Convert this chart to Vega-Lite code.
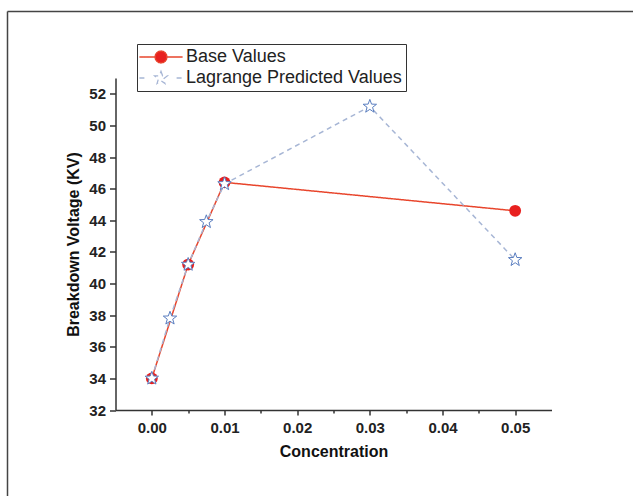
{
  "$schema": "https://vega.github.io/schema/vega-lite/v6.json",
  "width": 625.5,
  "height": 484.5,
  "autosize": {"type": "none"},
  "padding": {"left": 7.5, "top": 11.5, "right": 0, "bottom": 0},
  "background": "white",
  "config": {
    "view": {"stroke": "#444", "strokeWidth": 1.5, "strokeDash": [625.5, 1110, 484.5, 0]},
    "font": "Liberation Sans",
    "axis": {"labelFont": "Liberation Sans", "titleFont": "Liberation Sans", "grid": false}
  },
  "data": {
    "values": [
      {"series": "Base Values", "c": 0.0, "v": 34.0},
      {"series": "Base Values", "c": 0.005, "v": 41.2},
      {"series": "Base Values", "c": 0.01, "v": 46.4},
      {"series": "Base Values", "c": 0.05, "v": 44.6},
      {"series": "Lagrange Predicted Values", "c": 0.0, "v": 34.0},
      {"series": "Lagrange Predicted Values", "c": 0.0025, "v": 37.8},
      {"series": "Lagrange Predicted Values", "c": 0.005, "v": 41.2},
      {"series": "Lagrange Predicted Values", "c": 0.0075, "v": 43.9},
      {"series": "Lagrange Predicted Values", "c": 0.01, "v": 46.3},
      {"series": "Lagrange Predicted Values", "c": 0.03, "v": 51.2},
      {"series": "Lagrange Predicted Values", "c": 0.05, "v": 41.5}
    ]
  },
  "layer": [
    {
      "mark": {"type": "line", "strokeWidth": 1.5},
      "encoding": {
        "x": {
          "field": "c", "type": "quantitative",
          "scale": {"domain": [-0.005, 0.055], "range": [108, 544], "nice": false, "zero": false},
          "axis": {
            "orient": "bottom", "offset": -86,
            "values": [0, 0.005, 0.01, 0.015, 0.02, 0.025, 0.03, 0.035, 0.04, 0.045, 0.05],
            "format": ".2f",
            "labelExpr": "abs(datum.value * 100 - round(datum.value * 100)) < 0.001 ? datum.label : ''",
            "tickSize": {"condition": {"test": "abs(datum.value * 100 - round(datum.value * 100)) < 0.001", "value": 5}, "value": 3},
            "tickWidth": 1.5, "tickColor": "#333",
            "domainColor": "#333", "domainWidth": 1.5,
            "labelOverlap": false,
            "labelPadding": 5, "labelFontSize": 15, "labelFontWeight": "bold", "labelColor": "#222",
            "title": "Concentration", "titleFontSize": 16, "titleFontWeight": "bold", "titleColor": "#111", "titlePadding": 8
          }
        },
        "y": {
          "field": "v", "type": "quantitative",
          "scale": {"domain": [32, 53], "range": [398.5, 66.5], "nice": false, "zero": false},
          "axis": {
            "orient": "left", "offset": -108,
            "values": [32, 33, 34, 35, 36, 37, 38, 39, 40, 41, 42, 43, 44, 45, 46, 47, 48, 49, 50, 51, 52, 53],
            "format": "d",
            "labelExpr": "datum.value % 2 === 0 ? datum.label : ''",
            "tickSize": {"condition": {"test": "datum.value % 2 === 0", "value": 6}, "value": 3},
            "tickWidth": 1.5, "tickColor": "#333",
            "domainColor": "#333", "domainWidth": 1.5,
            "labelOverlap": false,
            "labelPadding": 4, "labelFontSize": 15, "labelFontWeight": "bold", "labelColor": "#222",
            "title": "Breakdown Voltage (KV)", "titleFontSize": 16, "titleFontWeight": "bold", "titleColor": "#111", "titlePadding": 7
          }
        },
        "color": {
          "field": "series", "type": "nominal",
          "scale": {"domain": ["Base Values", "Lagrange Predicted Values"], "range": ["#e8452c", "#a7b6d5"]},
          "legend": {
            "title": null, "orient": "none", "legendX": 129.5, "legendY": 32.5,
            "padding": 4, "strokeColor": "#333", "fillColor": "white",
            "labelFont": "Liberation Sans", "labelFontSize": 18, "labelColor": "#222", "labelLimit": 400,
            "symbolSize": 144, "symbolOffset": 11, "labelOffset": 16, "rowPadding": 2,
            "encode": {
              "symbols": {
                "update": {
                  "shape": {"signal": "datum.value === 'Base Values' ? 'M-3.6,0H-1M1,0H3.6M1,0L0.924,0.383L0.707,0.707L0.383,0.924L0,1L-0.383,0.924L-0.707,0.707L-0.924,0.383L-1,0L-0.924,-0.383L-0.707,-0.707L-0.383,-0.924L0,-1L0.383,-0.924L0.707,-0.707L0.924,-0.383Z' : 'M-3.6,0H-2.6M2.6,0H3.6M0,-1.1L0.265,-0.364L1.046,-0.34L0.428,0.139L0.647,0.89L0,0.45L-0.647,0.89L-0.428,0.139L-1.046,-0.34L-0.265,-0.364Z'"},
                  "fill": {"signal": "datum.value === 'Base Values' ? '#e8201f' : 'white'"},
                  "stroke": {"signal": "datum.value === 'Base Values' ? '#e8452c' : '#5a7ec0'"},
                  "strokeWidth": {"value": 1.3},
                  "strokeDash": {"value": [1, 0]},
                  "opacity": {"value": 1}
                }
              }
            }
          }
        },
        "strokeDash": {
          "field": "series", "type": "nominal",
          "scale": {"domain": ["Base Values", "Lagrange Predicted Values"], "range": [[1, 0], [5, 4]]},
          "legend": null
        }
      }
    },
    {
      "transform": [{"filter": "datum.series === 'Base Values'"}],
      "mark": {"type": "point", "shape": "circle", "filled": true, "size": 140, "color": "#e8201f", "opacity": 1},
      "encoding": {
        "x": {"field": "c", "type": "quantitative"},
        "y": {"field": "v", "type": "quantitative"}
      }
    },
    {
      "transform": [{"filter": "datum.series === 'Lagrange Predicted Values'"}],
      "mark": {"type": "point", "shape": "M0,-1.1L0.265,-0.364L1.046,-0.34L0.428,0.139L0.647,0.89L0,0.45L-0.647,0.89L-0.428,0.139L-1.046,-0.34L-0.265,-0.364Z", "filled": true, "size": 165, "fill": "white", "stroke": "#5a7ec0", "strokeWidth": 1, "opacity": 1},
      "encoding": {
        "x": {"field": "c", "type": "quantitative"},
        "y": {"field": "v", "type": "quantitative"}
      }
    }
  ]
}
